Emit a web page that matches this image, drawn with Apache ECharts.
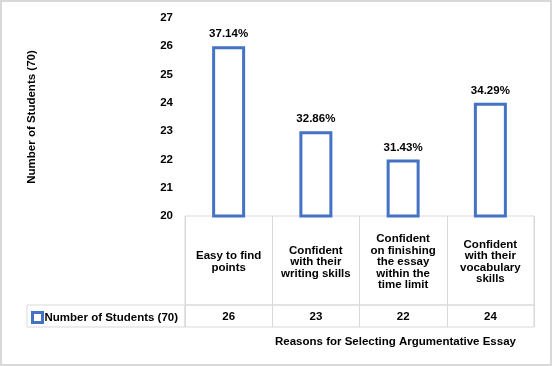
<!DOCTYPE html>
<html>
<head>
<meta charset="utf-8">
<script src="https://cdn.jsdelivr.net/npm/echarts@6/dist/echarts.min.js"></script>
<style>
  html, body { margin: 0; padding: 0; background: #fff; }
  #main { width: 552px; height: 366px; }
  #frame { position: absolute; left: 0; top: 0; width: 552px; height: 366px; box-sizing: border-box; border: 2px solid #d9d9d9; pointer-events: none; }
</style>
</head>
<body>
<div id="main"></div>
<div id="frame"></div>
<script>
// 类别（表头文字）
const categories = [
  'Easy to find\npoints',
  'Confident\nwith their\nwriting skills',
  'Confident\non finishing\nthe essay\nwithin the\ntime limit',
  'Confident\nwith their\nvocabulary\nskills'
]
// 学生人数
const students = [26, 23, 22, 24]
// 柱顶百分比
const percentLabels = ['37.14%', '32.86%', '31.43%', '34.29%']
// y轴范围
const yMin = 20
const yMax = 27
const yStep = 1

const seriesName = 'Number of Students (70)'
const font = "'Liberation Sans', Arial, sans-serif"
const lineColor = '#d9d9d9'
const textBold = { fontFamily: font, fontWeight: 'bold', fontSize: 11.5, color: '#000' }

// 隐藏的坐标轴
const hiddenAxis = (type, gridIndex) => ({ type, gridIndex, show: false })

const option = {
  animation: false,
  textStyle: { fontFamily: font },
  title: {
    text: 'Reasons for Selecting Argumentative Essay',
    left: 275,
    top: 336,
    padding: 0,
    textStyle: { ...textBold }
  },
  legend: {
    data: [seriesName],
    left: 31,
    top: 311,
    padding: 0,
    icon: 'rect',
    itemWidth: 10,
    itemHeight: 10,
    itemStyle: { color: '#fff', borderColor: '#4472C4', borderWidth: 3 },
    textStyle: { ...textBold, padding: [0, 0, 0, -3] }
  },
  grid: [
    // 主图
    { left: 185, right: 18, top: 18, height: 198 },
    // 表头行
    { left: 185, right: 18, top: 216, height: 89, show: true, borderColor: lineColor, borderWidth: 1 },
    // 数值行
    { left: 185, right: 18, top: 305, height: 22, show: true, borderColor: lineColor, borderWidth: 1 },
    // 图例单元格
    { left: 27, width: 158, top: 305, height: 22, show: true, borderColor: lineColor, borderWidth: 1 }
  ],
  xAxis: [
    {
      type: 'category',
      gridIndex: 0,
      data: categories,
      axisLine: { show: false },
      axisTick: { show: false },
      axisLabel: { ...textBold, interval: 0, margin: 46, verticalAlign: 'middle', lineHeight: 11.5 }
    },
    {
      type: 'category',
      gridIndex: 1,
      data: categories,
      axisLine: { show: false },
      axisTick: { show: false },
      axisLabel: { show: false },
      splitLine: { show: true, interval: 0, lineStyle: { color: lineColor, width: 1 } }
    },
    {
      type: 'category',
      gridIndex: 2,
      data: students.map(String),
      axisLine: { show: false },
      axisTick: { show: false },
      axisLabel: { ...textBold, inside: true, interval: 0, margin: 10, verticalAlign: 'middle' },
      splitLine: { show: true, interval: 0, lineStyle: { color: lineColor, width: 1 } }
    },
    hiddenAxis('category', 3)
  ],
  yAxis: [
    {
      type: 'value',
      gridIndex: 0,
      min: yMin,
      max: yMax,
      interval: yStep,
      axisLine: { show: false },
      axisTick: { show: false },
      splitLine: { show: false },
      axisLabel: { ...textBold, margin: 12 },
      name: seriesName,
      nameLocation: 'middle',
      nameGap: 147,
      nameTextStyle: { ...textBold }
    },
    hiddenAxis('value', 1),
    hiddenAxis('value', 2),
    hiddenAxis('value', 3)
  ],
  series: [
    {
      name: seriesName,
      type: 'bar',
      xAxisIndex: 0,
      yAxisIndex: 0,
      data: students,
      barWidth: 33,
      itemStyle: { color: '#fff', borderColor: '#4472C4', borderWidth: 3 },
      label: {
        show: true,
        position: 'top',
        distance: 6,
        ...textBold,
        formatter: p => percentLabels[p.dataIndex]
      }
    }
  ]
}

const chart = echarts.init(document.getElementById('main'))
chart.setOption(option)
</script>
</body>
</html>
